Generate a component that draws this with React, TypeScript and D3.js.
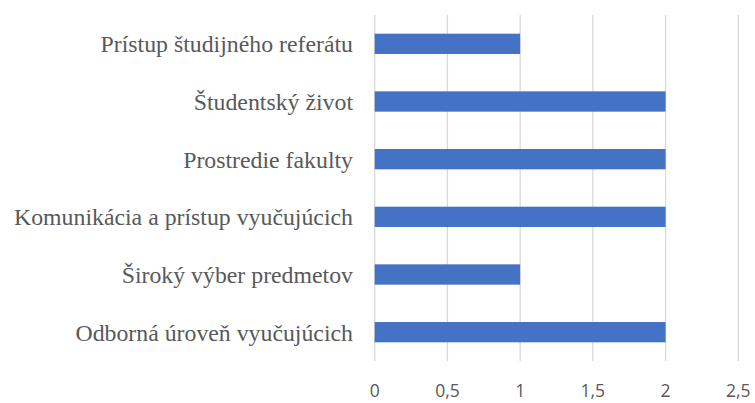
import React from "react";
import * as d3 from "d3";

const categories = [
  "Prístup študijného referátu",
  "Študentský život",
  "Prostredie fakulty",
  "Komunikácia a prístup vyučujúcich",
  "Široký výber predmetov",
  "Odborná úroveň vyučujúcich",
];
const values = [1, 2, 2, 2, 1, 2];
const ticks = [0, 0.5, 1, 1.5, 2, 2.5];
const tickLabels = ["0", "0,5", "1", "1,5", "2", "2,5"];

const W = 755;
const H = 403;
const left = 374.7;
const right = 738.3;
const top = 15;
const bottom = 361;

export default function App() {
  const x = d3.scaleLinear().domain([0, 2.5]).range([left, right]);
  const y = d3
    .scaleBand<string>()
    .domain(categories)
    .range([top, bottom])
    .paddingInner(0.648)
    .paddingOuter(0.324);
  return (
    <svg
      width={W}
      height={H}
      style={{ position: "absolute", left: 0, top: 0, display: "block" }}
    >
      <rect width={W} height={H} fill="#fff" />
      {ticks.map((t, i) => (
        <line
          key={"g" + i}
          x1={x(t)}
          x2={x(t)}
          y1={top}
          y2={bottom}
          stroke="#d9d9d9"
          strokeWidth={1.3}
        />
      ))}
      {categories.map((c, i) => (
        <rect
          key={"b" + i}
          x={x(0)}
          y={y(c)}
          width={x(values[i]) - x(0)}
          height={y.bandwidth()}
          fill="#4472c4"
        />
      ))}
      {categories.map((c, i) => (
        <text
          key={"l" + i}
          x={353}
          y={(y(c) as number) + y.bandwidth() / 2 + 8.5}
          textAnchor="end"
          style={{ fontFamily: '"Liberation Serif", "Times New Roman", serif', fontSize: "23.8px" }}
          fill="#595959"
        >
          {c}
        </text>
      ))}
      {ticks.map((t, i) => (
        <text
          key={"t" + i}
          x={x(t)}
          y={397}
          textAnchor="middle"
          style={{ fontFamily: '"Open Sans", "Liberation Sans", sans-serif', fontSize: "17.5px" }}
          fill="#595959"
        >
          {tickLabels[i]}
        </text>
      ))}
    </svg>
  );
}
